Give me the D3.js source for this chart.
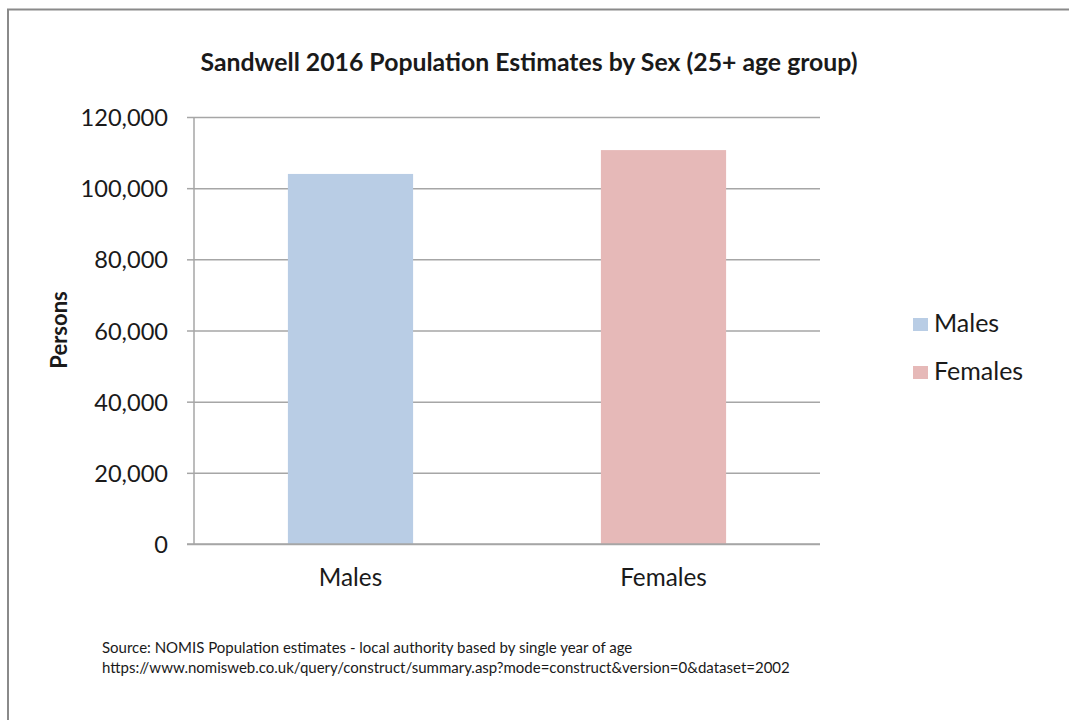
<!DOCTYPE html>
<html><head><meta charset="utf-8">
<script src="https://cdn.jsdelivr.net/npm/d3@7"></script>
<style>body{margin:0;background:#fff}svg{display:block}text{font-family:Lato,"Open Sans",sans-serif;fill:#1a1a1a}</style>
</head><body>
<script>
const categories = ["Males", "Females"];
const values = [104000, 110700];
const colors = ["#b9cde5", "#e6b9b8"];
const yTicks = [0, 20000, 40000, 60000, 80000, 100000, 120000];
const title = "Sandwell 2016 Population  Estimates by Sex (25+ age group)";
const yLabel = "Persons";
const sourceLines = ["Source: NOMIS Population estimates - local authority based by single year of age",
  "https://www.nomisweb.co.uk/query/construct/summary.asp?mode=construct&version=0&dataset=2002"];

const W = 1069, H = 720;
const svg = d3.select("body").append("svg").attr("width", W).attr("height", H);
svg.append("rect").attr("x", 8).attr("y", 9.5).attr("width", W + 10).attr("height", H + 10)
  .attr("fill", "#fff").attr("stroke", "#8a8a8a").attr("stroke-width", 2);

const L = 194, R = 820, T = 117, B = 544;
const x = d3.scaleBand().domain(categories).range([L, R]).paddingInner(0.6).paddingOuter(0.3);
const y = d3.scaleLinear().domain([0, 120000]).range([B, T]);

// gridlines
const gy = svg.append("g").attr("transform", `translate(${L},0)`)
  .call(d3.axisLeft(y).tickValues(yTicks).tickSize(-(R - L)).tickFormat(""));
gy.selectAll(".tick line").attr("stroke", "#a6a6a6").attr("stroke-width", 1.5);
gy.select(".domain").remove();
// tick marks
const ya = svg.append("g").attr("transform", `translate(${L},0)`)
  .call(d3.axisLeft(y).tickValues(yTicks).tickSize(7).tickPadding(19).tickFormat(d3.format(",")));
ya.select(".domain").attr("stroke", "#a6a6a6").attr("stroke-width", 1.5).attr("d", `M0,${T}V${B}`);
ya.selectAll(".tick line").attr("stroke", "#a6a6a6").attr("stroke-width", 1.5);
ya.selectAll(".tick text").attr("font-size", 23.6).attr("fill", "#1a1a1a").attr("dy", "0.36em")
  .style("font-family", "Lato, sans-serif");

// bars
svg.append("g").selectAll("rect").data(categories).join("rect")
  .attr("x", d => x(d)).attr("width", x.bandwidth())
  .attr("y", (d, i) => y(values[i])).attr("height", (d, i) => B - y(values[i]))
  .attr("fill", (d, i) => colors[i]);

// x axis baseline
svg.append("line").attr("x1", L - 7).attr("x2", R).attr("y1", B).attr("y2", B)
  .attr("stroke", "#a6a6a6").attr("stroke-width", 1.5);
svg.append("g").selectAll("text").data(categories).join("text")
  .attr("x", d => x(d) + x.bandwidth() / 2).attr("y", 586).attr("text-anchor", "middle")
  .attr("font-size", 24.3).text(d => d);

// title
svg.append("text").attr("x", 529).attr("y", 71).attr("text-anchor", "middle")
  .attr("font-size", 24.8).attr("font-weight", "bold").text(title);

// y label
svg.append("text").attr("transform", "translate(67,330) rotate(-90)").attr("text-anchor", "middle")
  .attr("font-size", 22).attr("font-weight", "bold").text(yLabel);

// legend
const lg = svg.append("g").selectAll("g").data(categories).join("g")
  .attr("transform", (d, i) => `translate(913,${318 + i * 48})`);
lg.append("rect").attr("width", 15).attr("height", 13).attr("fill", (d, i) => colors[i]);
lg.append("text").attr("x", 21).attr("y", 14).attr("font-size", 25).text(d => d);

// source
svg.append("g").selectAll("text").data(sourceLines).join("text")
  .attr("x", 102).attr("y", (d, i) => 653 + i * 20).attr("font-size", 15).text(d => d);
</script>
</body></html>
